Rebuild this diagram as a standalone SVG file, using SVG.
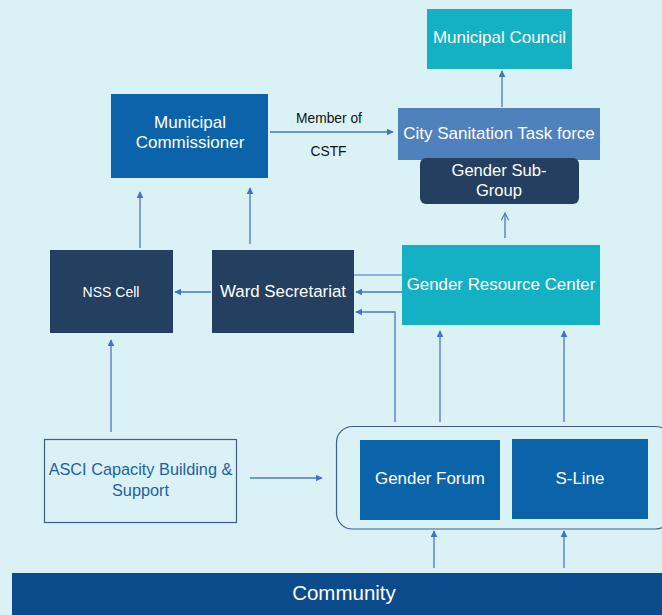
<svg xmlns="http://www.w3.org/2000/svg" width="662" height="615" viewBox="0 0 662 615">
<defs>
<marker id="ah" viewBox="0 0 10 10" refX="9" refY="5" markerWidth="7" markerHeight="7" markerUnits="userSpaceOnUse" orient="auto">
<path d="M0,0 L10,5 L0,10 z" fill="#4472C4"/>
</marker>
<marker id="open" viewBox="0 0 10 10" refX="9" refY="5" markerWidth="9" markerHeight="9" markerUnits="userSpaceOnUse" orient="auto">
<path d="M1,1 L9,5 L1,9" fill="none" stroke="#4472C4" stroke-width="1.2"/>
</marker>
<style>
text{font-family:"Liberation Sans",Arial,sans-serif;text-anchor:middle;fill:#FFFFFF}
.teal{fill:#14B0C4}
.blue{fill:#0B64AA}
.navy{fill:#243F60}
.c{stroke:#4A78C2;stroke-width:1.3;fill:none}
.cl{stroke:#8FB0DD;stroke-width:2;fill:none}
</style>
</defs>
<rect width="662" height="615" fill="#DAF2F6"/>

<g id="connectors">
<line class="c" x1="502" y1="107" x2="502" y2="71" marker-end="url(#ah)"/>
<line class="c" x1="270" y1="132" x2="393" y2="132" marker-end="url(#ah)"/>
<line class="c" x1="140" y1="248" x2="140" y2="192" marker-end="url(#ah)"/>
<line class="c" x1="250" y1="244" x2="250" y2="188" marker-end="url(#ah)"/>
<line class="c" x1="211" y1="292" x2="175" y2="292" marker-end="url(#ah)"/>
<line class="cl" x1="354" y1="275" x2="402" y2="275"/>
<line class="c" x1="402" y1="292" x2="356" y2="292" marker-end="url(#ah)"/>
<polyline class="c" points="395,422 395,312 356,312" marker-end="url(#ah)"/>
<line class="c" x1="505" y1="238" x2="505" y2="213" marker-end="url(#open)"/>
<line class="c" x1="440" y1="422" x2="440" y2="331" marker-end="url(#ah)"/>
<line class="c" x1="564" y1="422" x2="564" y2="331" marker-end="url(#ah)"/>
<line class="c" x1="434" y1="568" x2="434" y2="531" marker-end="url(#ah)"/>
<line class="c" x1="564" y1="568" x2="564" y2="531" marker-end="url(#ah)"/>
<line class="c" x1="250" y1="478" x2="322" y2="478" marker-end="url(#ah)"/>
<line class="c" x1="111" y1="432" x2="111" y2="340" marker-end="url(#ah)"/>
</g>

<g id="municipal-council">
<rect class="teal" x="427" y="9" width="145" height="60"/>
<text x="499.5" y="43" font-size="17">Municipal Council</text>
</g>

<g id="cstf">
<rect x="398" y="108" width="202" height="52" fill="#4F81BD"/>
<text x="499" y="139" font-size="17">City Sanitation Task force</text>
</g>

<g id="gender-sub-group">
<rect class="navy" x="420" y="158" width="159" height="46" rx="6"/>
<text x="499" y="176" font-size="16.6">Gender Sub-</text>
<text x="499" y="196" font-size="16.6">Group</text>
</g>

<g id="member-label">
<text x="329" y="123" font-size="13.8" style="fill:#111">Member of</text>
<text x="328.5" y="156" font-size="13.8" style="fill:#111">CSTF</text>
</g>

<g id="municipal-commissioner">
<rect class="blue" x="111" y="94" width="157" height="84"/>
<text x="190" y="128" font-size="17">Municipal</text>
<text x="190" y="148" font-size="17">Commissioner</text>
</g>

<g id="nss-cell">
<rect class="navy" x="50" y="250" width="123" height="83"/>
<text x="111" y="297" font-size="14">NSS Cell</text>
</g>

<g id="ward-secretariat">
<rect class="navy" x="212" y="250" width="142" height="83"/>
<text x="283" y="297" font-size="16.9">Ward Secretariat</text>
</g>

<g id="gender-resource-center">
<rect class="teal" x="402" y="245" width="198" height="80"/>
<text x="501" y="290" font-size="16.9">Gender Resource Center</text>
</g>

<g id="forum-group">
<rect x="336.5" y="426.5" width="335" height="102.5" rx="16" fill="none" stroke="#3D5E8C" stroke-width="1.2"/>
</g>

<g id="gender-forum">
<rect class="blue" x="360" y="440" width="140" height="80"/>
<text x="430" y="484" font-size="16.9">Gender Forum</text>
</g>

<g id="s-line">
<rect class="blue" x="512" y="439" width="136" height="80"/>
<text x="580" y="484" font-size="16.9">S-Line</text>
</g>

<g id="asci">
<rect x="44.5" y="439.5" width="192" height="83" fill="none" stroke="#3D5E8C" stroke-width="1.2"/>
<text x="140.5" y="475" font-size="16.3" style="fill:#1F5FA8">ASCI Capacity Building &amp;</text>
<text x="140.5" y="496" font-size="16.3" style="fill:#1F5FA8">Support</text>
</g>

<g id="community">
<rect x="12" y="573" width="650" height="42" fill="#0B4A8B"/>
<text x="344" y="600" font-size="20.5">Community</text>
</g>
</svg>
